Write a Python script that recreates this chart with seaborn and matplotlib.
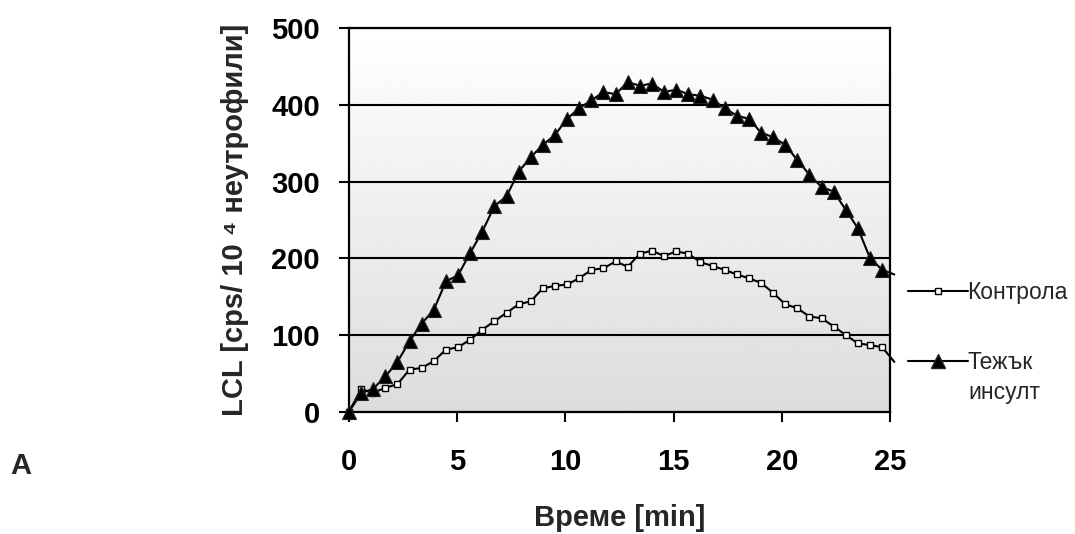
import numpy as np
import pandas as pd
import matplotlib
matplotlib.use("Agg")
import matplotlib.pyplot as plt
from matplotlib.lines import Line2D
import seaborn as sns

# ---- data ----
time_min = [0, 0.56, 1.12, 1.68, 2.24, 2.8, 3.36, 3.92, 4.48, 5.04, 5.6, 6.16,
            6.72, 7.28, 7.84, 8.4, 8.96, 9.52, 10.08, 10.64, 11.2, 11.76, 12.32,
            12.88, 13.44, 14.0, 14.56, 15.12, 15.68, 16.24, 16.8, 17.36, 17.92,
            18.48, 19.04, 19.6, 20.16, 20.72, 21.28, 21.84, 22.4, 22.96, 23.52,
            24.08, 24.64, 25.2]
control = [0, 29, 25, 31, 36, 55, 57, 66, 81, 84, 94, 107, 118, 129, 140, 144,
           161, 164, 166, 174, 185, 187, 196, 189, 206, 210, 203, 209, 206, 195,
           190, 185, 179, 174, 168, 155, 140, 135, 124, 122, 111, 100, 89, 87,
           84, 65]
severe = [0, 24, 30, 46, 65, 92, 115, 133, 170, 178, 207, 235, 268, 281, 313,
          332, 348, 361, 382, 396, 406, 417, 414, 430, 425, 428, 417, 420, 414,
          412, 407, 396, 386, 382, 364, 358, 348, 328, 309, 293, 287, 263, 239,
          200, 185, 179]
series_labels = ["Контрола", "Тежък\nинсулт"]
x_ticks = [0, 5, 10, 15, 20, 25]
y_ticks = [0, 100, 200, 300, 400, 500]

df_c = pd.DataFrame({"t": time_min, "v": control})
df_s = pd.DataFrame({"t": time_min, "v": severe})

sns.set_style("ticks")
plt.rcParams["font.family"] = ["Liberation Sans", "DejaVu Sans"]

fig = plt.figure(figsize=(10.75, 5.34), dpi=100)
ax = fig.add_axes([349 / 1075, 1 - 411.7 / 534, (890 - 349) / 1075, (411.7 - 28.3) / 534])

# gradient background
grad = np.linspace(0.865, 1.0, 256)[:, None]
ax.imshow(grad, extent=[0, 25, 0, 500], origin="lower", aspect="auto",
          cmap="gray", vmin=0, vmax=1, zorder=0)

n_mark = len(time_min) - 1
sns.lineplot(data=df_c, x="t", y="v", ax=ax, color="black", lw=1.5,
             marker="s", markersize=4.5, markerfacecolor="white",
             markeredgecolor="black", markeredgewidth=1.0,
             markevery=list(range(n_mark)), estimator=None, legend=False,
             clip_on=False, zorder=3)
sns.lineplot(data=df_s, x="t", y="v", ax=ax, color="black", lw=1.5,
             marker="^", markersize=10, markerfacecolor="black",
             markeredgecolor="#222222", markeredgewidth=0.8,
             markevery=list(range(n_mark)), estimator=None, legend=False,
             clip_on=False, zorder=4)

ax.set_xlim(0, 25)
ax.set_ylim(0, 500)
ax.set_xticks(x_ticks)
ax.set_yticks(y_ticks)
ax.set_xticklabels([str(v) for v in x_ticks], fontsize=21, fontweight="bold")
ax.set_yticklabels([str(v) for v in y_ticks], fontsize=21, fontweight="bold")
ax.tick_params(axis="x", direction="out", length=7, width=1.5, pad=19, colors="black")
ax.tick_params(axis="y", direction="out", length=7, width=1.5, pad=14, colors="black")
ax.yaxis.grid(True, color="black", lw=1.5)
ax.set_axisbelow(False)
for s in ax.spines.values():
    s.set_color("black")
    s.set_linewidth(1.6)

ax.set_xlabel("Време [min]", fontsize=21, fontweight="bold", labelpad=20)
ax.set_ylabel("LCL [cps/ 10 \u2074 неутрофили]", fontsize=21, fontweight="bold", labelpad=16)

h1 = Line2D([], [], color="black", lw=1.5, marker="s", markersize=4.5,
            markerfacecolor="white", markeredgecolor="black")
h2 = Line2D([], [], color="black", lw=1.5, marker="^", markersize=10,
            markerfacecolor="black", markeredgecolor="#222222")
leg = fig.legend([h1, h2], [series_labels[0], series_labels[1].split("\n")[0]],
                 loc="upper left", bbox_to_anchor=(908 / 1075, 1 - 281 / 534),
                 frameon=False, fontsize=16.5, handlelength=2.6,
                 handletextpad=0.0, labelspacing=2.05, borderpad=0, borderaxespad=0)
fig.text(968 / 1075, 1 - 393 / 534, series_labels[1].split("\n")[1],
         fontsize=16.5, va="center", ha="left")

fig.text(10 / 1075, 1 - 466 / 534, "A", fontsize=21, fontweight="bold",
         va="center", ha="left")

fig.savefig("out.png", dpi=100)
